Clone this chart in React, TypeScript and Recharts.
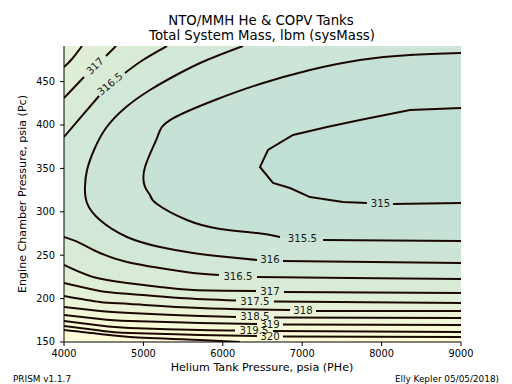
import React from 'react';
import { ComposedChart, XAxis, YAxis, Area, Line, Scatter } from 'recharts';

type Pt = [number, number] | null;

// Axes
const xTicks = [4000, 5000, 6000, 7000, 8000, 9000];
const yTicks = [150, 200, 250, 300, 350, 400, 450];
const xRange = [4000, 9000];
const yRange = [150, 491];

// Contour lines of sysMass (lbm), points [PHe, Pc]; null marks the inline-label gap
const lvl315: Pt[] = [[9000, 419.6], [8358, 417.3], [7728, 405.7], [7312, 397.7], [6884, 388.5], [6569, 371.2], [6468, 351.6], [6632, 333.2], [6846, 327.4], [7098, 317.0], [7514, 311.3], [7816, 310.1], null, [8143, 309.0], [9000, 310.1]];
const lvl315_5: Pt[] = [[9000, 482.9], [8358, 480.6], [7728, 474.9], [7098, 463.3], [6468, 447.2], [5902, 428.8], [5335, 405.7], [5171, 385.0], [5020, 351.6], [5020, 328.6], [5083, 319.3], [5171, 309.0], [5549, 290.5], [5965, 280.2], [6431, 275.6], [6720, 271.0], null, [7262, 267.5], [9000, 266.4]];
const lvl316: Pt[] = [[6254, 491], [5801, 474.9], [5461, 459.9], [5083, 440.3], [4768, 419.6], [4529, 396.5], [4378, 371.2], [4290, 348.1], [4264, 328.6], [4290, 310.1], [4453, 290.5], [4793, 271.0], [5209, 259.4], [5625, 252.5], [6053, 247.9], [6431, 244.5], null, [6758, 243.3], [9000, 241.0]];
const lvl316_5a: Pt[] = [[4000, 386.2], [4202, 408.0], [4441, 433.4], null, [4768, 459.9], [4995, 474.9], [5297, 491]];
const lvl316_5b: Pt[] = [[4000, 271.0], [4202, 264.0], [4453, 252.5], [4793, 242.2], [5209, 235.2], [5625, 229.5], [5952, 227.2], null, [6431, 224.9], [7602, 223.7], [9000, 222.6]];
const lvl317a: Pt[] = [[4000, 431.1], [4252, 455.3], null, [4529, 479.5], [4655, 491]];
const lvl317b: Pt[] = [[4000, 238.7], [4365, 224.9], [4793, 218.0], [5209, 213.4], [5625, 209.9], [6418, 208.8], null, [6771, 207.6], [9000, 206.4]];
const lvl317_5a: Pt[] = [[4000, 466.8], [4101, 476.0], [4227, 491]];
const lvl317_5b: Pt[] = [[4000, 218.0], [4453, 208.8], [4831, 205.3], [5461, 200.7], [6166, 197.8], null, [6645, 196.7], [9000, 194.9]];
const lvl318: Pt[] = [[4000, 203.0], [4453, 196.1], [4831, 193.8], [5713, 189.2], [6846, 186.9], null, [7174, 185.7], [9000, 185.7]];
const lvl318_5: Pt[] = [[4000, 190.3], [4453, 185.7], [4831, 183.4], [5713, 179.9], [6166, 178.8], null, [6645, 178.2], [9000, 177.6]];
const lvl319: Pt[] = [[4000, 181.1], [4453, 176.5], [4831, 174.2], [5713, 171.9], [6431, 170.7], null, [6758, 170.2], [9000, 169.6]];
const lvl319_5: Pt[] = [[4000, 174.2], [4453, 169.0], [4831, 166.1], [5713, 163.8], [6154, 163.2], null, [6632, 162.7], [9000, 161.5]];
const lvl320: Pt[] = [[4000, 168.4], [4453, 163.2], [4831, 160.4], [5713, 158.1], [6431, 156.9], null, [6758, 156.3], [9000, 155.8]];
const lvl320_5: Pt[] = [[4000, 163.8], [4453, 159.2], [4831, 155.8], [5713, 152.3], [6217, 150]];

// Inline contour labels
const contourLabels = [
  { x: 7986, y: 310.1, t: '315', a: 0 },
  { x: 7003, y: 269.8, t: '315.5', a: 0 },
  { x: 6594, y: 244.5, t: '316', a: 0 },
  { x: 6191, y: 226.0, t: '316.5', a: 0 },
  { x: 6594, y: 208.2, t: '317', a: 0 },
  { x: 6405, y: 197.2, t: '317.5', a: 0 },
  { x: 7010, y: 186.3, t: '318', a: 0 },
  { x: 6405, y: 179.4, t: '318.5', a: 0 },
  { x: 6594, y: 170.2, t: '319', a: 0 },
  { x: 6393, y: 163.2, t: '319.5', a: 0 },
  { x: 6594, y: 155.8, t: '320', a: 0 },
  { x: 4579, y: 447.2, t: '316.5', a: -40 },
  { x: 4390, y: 468.0, t: '317', a: -44 },
];

const FONT = '"DejaVu Sans", Verdana, sans-serif';
const LINE = '#1c0800';
const band = {
  lt315: '#c0dfd6',
  b315: '#c6e2d6',
  b315_5: '#cce5d7',
  b316: '#d2e8d7',
  b316_5: '#d9ebd7',
  b317: '#dfeed7',
  b317_5: '#e5f1d7',
  b318: '#ebf4d7',
  b318_5: '#f1f7d7',
  b319: '#f6fad7',
  b319_5: '#fafcd7',
  b320: '#fdfdd8',
  b320_5: '#fffed9',
};

const toLine = (pts: Pt[]) => {
  let lastX = (pts.find((p) => p) as [number, number])[0];
  return pts.map((p) => {
    if (p) {
      lastX = p[0];
      return { x: p[0], y: p[1] };
    }
    return { x: lastX, y: null as number | null };
  });
};
const toArea = (pts: Pt[]) => pts.filter((p) => p).map((p) => ({ x: (p as [number, number])[0], y: (p as [number, number])[1] }));

const LabelShape = (props: any) => {
  const { cx, cy, payload } = props;
  if (cx == null || cy == null) return <g />;
  return (
    <text
      x={cx}
      y={cy}
      textAnchor="middle"
      dominantBaseline="central"
      fontSize={10.2}
      fontFamily={FONT}
      fill="#1a1a1a"
      transform={payload.a ? `rotate(${payload.a} ${cx} ${cy})` : undefined}
    >
      {payload.t}
    </text>
  );
};

export default function App() {
  const TOP = yRange[1];
  const BOT = yRange[0];
  const fills: { id: string; pts: Pt[]; base: number; color: string; curve: any }[] = [
    { id: 'bg', pts: [[xRange[0], TOP], [xRange[1], TOP]], base: BOT, color: band.b316, curve: 'linear' },
    { id: 'f316', pts: lvl316, base: TOP, color: band.b315_5, curve: 'natural' },
    { id: 'f315_5', pts: lvl315_5, base: TOP, color: band.b315, curve: 'natural' },
    { id: 'f315', pts: lvl315, base: TOP, color: band.lt315, curve: 'linear' },
    { id: 'f316_5a', pts: lvl316_5a, base: TOP, color: band.b316_5, curve: 'natural' },
    { id: 'f317a', pts: lvl317a, base: TOP, color: band.b317, curve: 'natural' },
    { id: 'f317_5a', pts: lvl317_5a, base: TOP, color: band.b317_5, curve: 'natural' },
    { id: 'f316_5b', pts: lvl316_5b, base: BOT, color: band.b316_5, curve: 'natural' },
    { id: 'f317b', pts: lvl317b, base: BOT, color: band.b317, curve: 'natural' },
    { id: 'f317_5b', pts: lvl317_5b, base: BOT, color: band.b317_5, curve: 'natural' },
    { id: 'f318', pts: lvl318, base: BOT, color: band.b318, curve: 'natural' },
    { id: 'f318_5', pts: lvl318_5, base: BOT, color: band.b318_5, curve: 'natural' },
    { id: 'f319', pts: lvl319, base: BOT, color: band.b319, curve: 'natural' },
    { id: 'f319_5', pts: lvl319_5, base: BOT, color: band.b319_5, curve: 'natural' },
    { id: 'f320', pts: lvl320, base: BOT, color: band.b320, curve: 'natural' },
    { id: 'f320_5', pts: lvl320_5, base: BOT, color: band.b320_5, curve: 'natural' },
  ];
  const strokes: { id: string; pts: Pt[]; curve: any }[] = [
    { id: 's315', pts: lvl315, curve: 'linear' },
    { id: 's315_5', pts: lvl315_5, curve: 'natural' },
    { id: 's316', pts: lvl316, curve: 'natural' },
    { id: 's316_5a', pts: lvl316_5a, curve: 'natural' },
    { id: 's316_5b', pts: lvl316_5b, curve: 'natural' },
    { id: 's317a', pts: lvl317a, curve: 'natural' },
    { id: 's317b', pts: lvl317b, curve: 'natural' },
    { id: 's317_5a', pts: lvl317_5a, curve: 'natural' },
    { id: 's317_5b', pts: lvl317_5b, curve: 'natural' },
    { id: 's318', pts: lvl318, curve: 'natural' },
    { id: 's318_5', pts: lvl318_5, curve: 'natural' },
    { id: 's319', pts: lvl319, curve: 'natural' },
    { id: 's319_5', pts: lvl319_5, curve: 'natural' },
    { id: 's320', pts: lvl320, curve: 'natural' },
    { id: 's320_5', pts: lvl320_5, curve: 'natural' },
  ];
  const tickStyle = { fill: '#000', fontSize: 9.8, fontFamily: FONT };
  return (
    <div style={{ position: 'absolute', left: 0, top: 0, width: 512, height: 384, background: '#fff' }}>
      <ComposedChart width={512} height={384} margin={{ top: 46, right: 51, bottom: 0, left: 0 }}>
        <XAxis
          dataKey="x"
          type="number"
          domain={xRange}
          ticks={xTicks}
          interval={0}
          allowDataOverflow
          height={42}
          tickSize={4}
          tickMargin={4}
          tick={tickStyle}
          axisLine={{ stroke: '#000', strokeWidth: 1 }}
          tickLine={{ stroke: '#000', strokeWidth: 1 }}
        />
        <XAxis
          xAxisId="top"
          orientation="top"
          type="number"
          domain={xRange}
          allowDataOverflow
          height={0}
          tick={false}
          tickLine={false}
          axisLine={{ stroke: '#000', strokeWidth: 1 }}
        />
        <YAxis
          dataKey="y"
          type="number"
          domain={yRange}
          ticks={yTicks}
          interval={0}
          allowDataOverflow
          width={64}
          tickSize={4}
          tickMargin={5}
          tick={tickStyle}
          axisLine={{ stroke: '#000', strokeWidth: 1 }}
          tickLine={{ stroke: '#000', strokeWidth: 1 }}
        />
        <YAxis
          yAxisId="right"
          orientation="right"
          type="number"
          domain={yRange}
          allowDataOverflow
          width={0}
          tick={false}
          tickLine={false}
          axisLine={{ stroke: '#000', strokeWidth: 1 }}
        />
        {fills.map((f) => (
          <Area
            key={f.id}
            name={f.id}
            data={toArea(f.pts)}
            dataKey="y"
            type={f.curve}
            baseValue={f.base}
            fill={f.color}
            fillOpacity={1}
            stroke="none"
            dot={false}
            activeDot={false}
            isAnimationActive={false}
          />
        ))}
        {strokes.map((s) => (
          <Line
            key={s.id}
            name={s.id}
            data={toLine(s.pts)}
            dataKey="y"
            type={s.curve}
            stroke={LINE}
            strokeWidth={2}
            dot={false}
            activeDot={false}
            isAnimationActive={false}
          />
        ))}
        <Scatter name="labels" data={contourLabels} dataKey="y" shape={LabelShape} isAnimationActive={false} />
      </ComposedChart>
      <svg
        width={512}
        height={384}
        style={{ position: 'absolute', left: 0, top: 0, pointerEvents: 'none' }}
        fontFamily={FONT}
      >
        <text x={261} y={24.5} textAnchor="middle" fontSize={13.3} fill="#000">NTO/MMH He &amp; COPV Tanks</text>
        <text x={262} y={39.5} textAnchor="middle" fontSize={13.3} fill="#000">Total System Mass, lbm (sysMass)</text>
        <text x={262} y={370.5} textAnchor="middle" fontSize={11.1} fill="#000">Helium Tank Pressure, psia (PHe)</text>
        <text x={26} y={194} textAnchor="middle" fontSize={11.1} fill="#000" transform="rotate(-90 26 194)">Engine Chamber Pressure, psia (Pc)</text>
        <text x={13} y={381.5} textAnchor="start" fontSize={8.9} fill="#000">PRISM v1.1.7</text>
        <text x={499} y={381.5} textAnchor="end" fontSize={8.9} fill="#000">Elly Kepler 05/05/2018)</text>
      </svg>
    </div>
  );
}
